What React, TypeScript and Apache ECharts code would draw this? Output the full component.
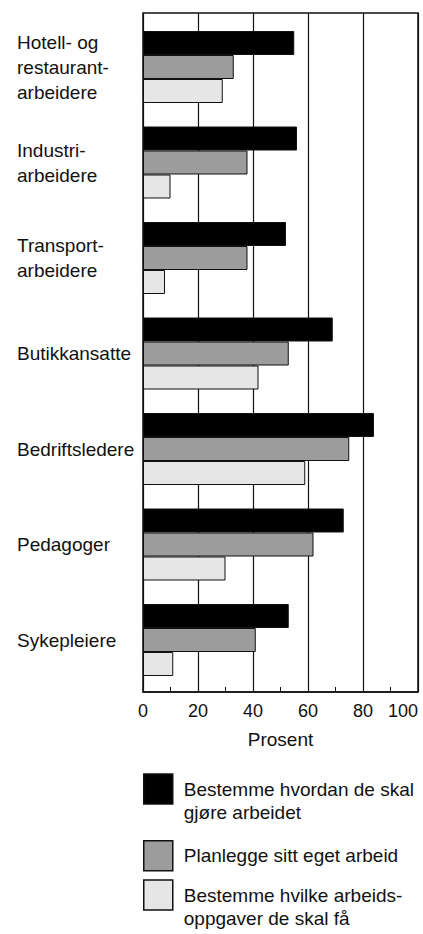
import React, { useEffect, useRef } from 'react';
import * as echarts from 'echarts';

const categories = [
  'Hotell- og\nrestaurant-\narbeidere',
  'Industri-\narbeidere',
  'Transport-\narbeidere',
  'Butikkansatte',
  'Bedriftsledere',
  'Pedagoger',
  'Sykepleiere',
];
const seriesNames = [
  'Bestemme hvordan de skal\ngjøre arbeidet',
  'Planlegge sitt eget arbeid',
  'Bestemme hvilke arbeids-\noppgaver de skal få',
];
const bestemmeHvordan = [55, 56, 52, 69, 84, 73, 53];
const planlegge = [33, 38, 38, 53, 75, 62, 41];
const bestemmeHvilke = [29, 10, 8, 42, 59, 30, 11];
const xMin = 0;
const xMax = 100;
const xInterval = 20;
const axisTitle = 'Prosent';

const FONT = "'Liberation Sans', Arial, Helvetica, sans-serif";
const colors = ['#000000', '#9c9c9c', '#e6e6e6'];

export default function App() {
  const ref = useRef<HTMLDivElement>(null);
  useEffect(() => {
    if (!ref.current) return;
    const chart = echarts.init(ref.current, null, { renderer: 'svg' });
    const values = [bestemmeHvordan, planlegge, bestemmeHvilke];
    const legendTops = [754.5, 840, 860.5];
    chart.setOption({
      animation: false,
      backgroundColor: '#ffffff',
      grid: [
        { left: 143, width: 275, top: 13, height: 679, show: true, borderColor: '#111', borderWidth: 1.5, backgroundColor: 'transparent', outerBoundsMode: 'none', containLabel: false },
        { left: 143, width: 275, top: 19.25, height: 668.5, outerBoundsMode: 'none', containLabel: false },
      ],
      xAxis: [
        {
          gridIndex: 0, type: 'value', min: xMin, max: xMax, interval: xInterval,
          axisLine: { show: true, lineStyle: { color: '#111', width: 1.5 } },
          axisTick: { show: true, inside: true, length: 5, lineStyle: { color: '#111', width: 1 } },
          minorTick: { show: true, splitNumber: 2, length: 5, lineStyle: { color: '#111', width: 1 } },
          splitLine: { show: true, lineStyle: { color: '#111', width: 1.2 } },
          axisLabel: { fontSize: 18, color: '#111', margin: 10, fontFamily: FONT, alignMaxLabel: 'right' },
          name: axisTitle, nameLocation: 'middle', nameGap: 38,
          nameTextStyle: { fontSize: 19, color: '#111', fontFamily: FONT },
        },
        { gridIndex: 1, type: 'value', min: xMin, max: xMax, show: false },
      ],
      yAxis: [
        { gridIndex: 0, type: 'value', min: 0, max: 1, show: false },
        {
          gridIndex: 1, type: 'category', data: categories, inverse: true,
          axisLine: { show: false }, axisTick: { show: false },
          axisLabel: { align: 'left', margin: 126, fontSize: 19, lineHeight: 25, color: '#111', fontFamily: FONT },
        },
      ],
      legend: seriesNames.map((n, i) => ({
        data: [n],
        left: 143,
        top: legendTops[i],
        orient: 'vertical',
        padding: 0,
        itemWidth: 29,
        itemHeight: 30,
        icon: 'rect',
        selectedMode: false,
        formatter: (name: string) => (name.indexOf('\n') >= 0 ? '\n' + name : name),
        itemStyle: { borderColor: '#111', borderWidth: 1.5 },
        textStyle: { fontSize: 19, lineHeight: 23, color: '#111', fontFamily: FONT, padding: [0, 0, 0, 6] },
      })),
      series: seriesNames.map((n, i) => ({
        name: n,
        type: 'bar',
        xAxisIndex: 1,
        yAxisIndex: 1,
        data: values[i],
        barWidth: 24,
        barGap: '0%',
        itemStyle: { color: colors[i], borderColor: '#111', borderWidth: 1 },
      })),
    });
    return () => chart.dispose();
  }, []);
  return <div ref={ref} style={{ position: 'fixed', left: 0, top: 0, width: 423, height: 934 }} />;
}
